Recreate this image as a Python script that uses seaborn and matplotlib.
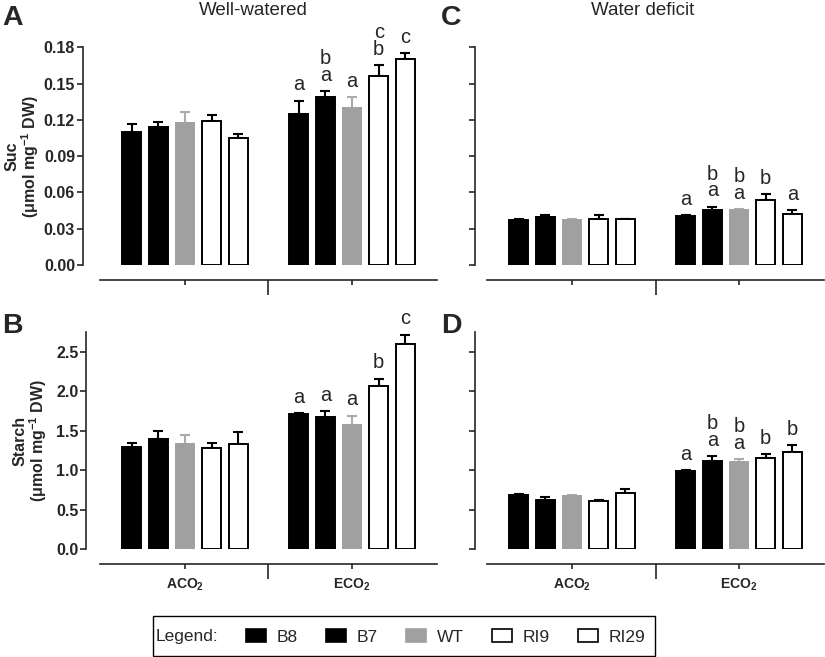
import numpy as np
import pandas as pd
import matplotlib
matplotlib.use("Agg")
import matplotlib.pyplot as plt
import seaborn as sns
from matplotlib.patches import Patch, Rectangle

# ---------------- data ----------------
genotypes = ["B8", "B7", "WT", "RI9", "RI29"]
co2_levels = ["ACO2", "ECO2"]
co2_labels = [r"$ACO_2$", r"$ECO_2$"]

# Suc, well-watered (A)
suc_ww_aco2 = [0.110, 0.114, 0.1175, 0.119, 0.105]
suc_ww_aco2_se = [0.0065, 0.004, 0.009, 0.005, 0.003]
suc_ww_eco2 = [0.125, 0.1385, 0.130, 0.156, 0.1705]
suc_ww_eco2_se = [0.011, 0.0055, 0.0085, 0.0095, 0.0045]
suc_ww_letters = ["a", "b\na", "a", "c\nb", "c"]

# Suc, water deficit (C)
suc_wd_aco2 = [0.0372, 0.0400, 0.0369, 0.0380, 0.0377]
suc_wd_aco2_se = [0.0010, 0.0015, 0.0010, 0.0030, 0.0005]
suc_wd_eco2 = [0.0405, 0.0454, 0.0454, 0.0537, 0.0424]
suc_wd_eco2_se = [0.0006, 0.0028, 0.0010, 0.0047, 0.0028]
suc_wd_letters = ["a", "b\na", "b\na", "b", "a"]

# Starch, well-watered (B)
starch_ww_aco2 = [1.29, 1.40, 1.332, 1.282, 1.328]
starch_ww_aco2_se = [0.06, 0.097, 0.114, 0.067, 0.16]
starch_ww_eco2 = [1.707, 1.678, 1.573, 2.074, 2.601]
starch_ww_eco2_se = [0.02, 0.067, 0.118, 0.089, 0.118]
starch_ww_letters = ["a", "a", "a", "b", "c"]

# Starch, water deficit (D)
starch_wd_aco2 = [0.68, 0.625, 0.675, 0.612, 0.717]
starch_wd_aco2_se = [0.017, 0.034, 0.008, 0.013, 0.046]
starch_wd_eco2 = [0.99, 1.116, 1.107, 1.153, 1.233]
starch_wd_eco2_se = [0.008, 0.067, 0.038, 0.05, 0.084]
starch_wd_letters = ["a", "b\na", "b\na", "b", "b"]

suc_ticks = [0.00, 0.03, 0.06, 0.09, 0.12, 0.15, 0.18]
starch_ticks = [0.0, 0.5, 1.0, 1.5, 2.0, 2.5]

# ---------------- style ----------------
bar_colors = ["#000000", "#000000", "#a0a0a0", "#ffffff", "#ffffff"]
edge_colors = ["#000000", "#000000", "#a0a0a0", "#000000", "#000000"]
err_colors = ["#000000", "#000000", "#ababab", "#000000", "#000000"]

sns.set_style("ticks")
plt.rcParams["font.family"] = ["Liberation Sans", "DejaVu Sans"]
plt.rcParams["mathtext.fontset"] = "custom"
plt.rcParams["mathtext.rm"] = "Liberation Sans"
plt.rcParams["mathtext.it"] = "Liberation Sans:italic"
plt.rcParams["mathtext.bf"] = "Liberation Sans:bold"
plt.rcParams["mathtext.default"] = "bf"

W, H = 825, 657
fig = plt.figure(figsize=(W / 100, H / 100), dpi=100)

PX_PER_CAT = 167.0


def rect(x_center0, xlim, y_bottom_px, y_top_px):
    left = x_center0 + xlim[0] * PX_PER_CAT
    right = x_center0 + xlim[1] * PX_PER_CAT
    return [left / W, (H - y_bottom_px) / H, (right - left) / W, (y_bottom_px - y_top_px) / H]


def panel(rect_, aco2, aco2_se, eco2, eco2_se, letters, ylim, yticks, tick_labels,
          ylabel, label_right_px, xlim, show_x):
    ax = fig.add_axes(rect_)
    df = pd.DataFrame({
        "co2": np.repeat(co2_levels, len(genotypes)),
        "genotype": genotypes * 2,
        "value": list(aco2) + list(eco2),
    })
    sns.barplot(data=df, x="co2", y="value", hue="genotype", order=co2_levels,
                hue_order=genotypes, palette=dict(zip(genotypes, bar_colors)),
                saturation=1, errorbar=None, width=0.8, gap=0.3, linewidth=1.4,
                edgecolor="black", legend=False, ax=ax)
    bar_containers = list(ax.containers)
    for hi, cont in enumerate(bar_containers):
        xs = []
        for bar in cont.patches:
            bar.set_edgecolor(edge_colors[hi])
            bar.set_zorder(2)
            xs.append(bar.get_x() + bar.get_width() / 2)
        ys = [aco2[hi], eco2[hi]]
        es = [aco2_se[hi], eco2_se[hi]]
        ax.errorbar(xs, ys, yerr=[[0, 0], es], fmt="none", ecolor=err_colors[hi],
                    elinewidth=1.5, capsize=3.5, capthick=1.5, zorder=1.5)
        ax.annotate(letters[hi], (xs[1], eco2[hi] + eco2_se[hi]), xytext=(0, 4.5),
                    textcoords="offset points", ha="center", va="bottom",
                    fontsize=14.5, linespacing=0.85, annotation_clip=False,
                    fontweight="normal")
    ax.set_xlim(*xlim)
    ax.set_ylim(*ylim)
    ax.set_yticks(yticks)
    if tick_labels:
        ax.set_yticklabels([f"{t:.2f}" if ylim[1] < 1 else f"{t:.1f}" for t in yticks],
                           fontweight="bold", fontsize=11.5)
    else:
        ax.set_yticklabels([])
    ax.set_xticks([0, 1])
    if show_x:
        ax.set_xticklabels(co2_labels, fontsize=13)
    else:
        ax.set_xticklabels([])
    ax.set_xticks([0.5], minor=True)
    ax.tick_params(axis="x", which="major", length=3.6, width=1.2, direction="out", pad=5)
    ax.tick_params(axis="x", which="minor", length=11, width=1.2, direction="out")
    ax.tick_params(axis="y", which="major", length=4.3, width=1.2, direction="out", pad=1.5)
    sns.despine(ax=ax)
    ax.spines["left"].set_linewidth(1.2)
    ax.spines["bottom"].set_linewidth(1.2)
    ax.spines["bottom"].set_position(("outward", 11))
    ax.spines["bottom"].set_bounds(-0.51, 1.51)
    ax.set_xlabel("")
    if ylabel:
        ax.set_ylabel(ylabel, fontsize=11.5, fontweight="bold", linespacing=1.0)
        left_px = rect_[0] * W
        width_px = rect_[2] * W
        ax.yaxis.set_label_coords((label_right_px - left_px) / width_px, 0.5)
    else:
        ax.set_ylabel("")
    ax.set_facecolor("none")
    return ax


suc_label = "Suc\n" + r"(μmol mg$^{-1}$ DW)"
starch_label = "Starch\n" + r"(μmol mg$^{-1}$ DW)"

panel(rect(185, (-0.61, 1.51), 265, 47.3), suc_ww_aco2, suc_ww_aco2_se, suc_ww_eco2,
      suc_ww_eco2_se, suc_ww_letters, (0, 0.18), suc_ticks, True, suc_label, 41,
      (-0.61, 1.51), False)
panel(rect(572, (-0.58, 1.51), 265, 47.3), suc_wd_aco2, suc_wd_aco2_se, suc_wd_eco2,
      suc_wd_eco2_se, suc_wd_letters, (0, 0.18), suc_ticks, False, None, None,
      (-0.58, 1.51), False)
panel(rect(185, (-0.59, 1.51), 549, 332.3), starch_ww_aco2, starch_ww_aco2_se,
      starch_ww_eco2, starch_ww_eco2_se, starch_ww_letters, (0, 2.75), starch_ticks,
      True, starch_label, 49, (-0.59, 1.51), True)
panel(rect(572, (-0.58, 1.51), 549, 332.3), starch_wd_aco2, starch_wd_aco2_se,
      starch_wd_eco2, starch_wd_eco2_se, starch_wd_letters, (0, 2.75), starch_ticks,
      False, None, None, (-0.58, 1.51), True)

# titles and panel letters
fig.text(253 / W, 1 - 15 / H, "Well-watered", ha="center", va="baseline", fontsize=13.5)
fig.text(643 / W, 1 - 15 / H, "Water deficit", ha="center", va="baseline", fontsize=13.5)
for lab, x, y in [("A", 2, 25), ("C", 441, 25), ("B", 2, 333), ("D", 441, 333)]:
    fig.text(x / W, 1 - y / H, lab, ha="left", va="baseline", fontsize=20.5,
             fontweight="bold")

# legend
fig.add_artist(Rectangle((153 / W, 1.0 / H), 502 / W, 40 / H, transform=fig.transFigure,
                         fill=False, edgecolor="black", linewidth=1.0))
fig.text(156 / W, 1 - 637 / H, "Legend:", ha="left", va="center", fontsize=12.5)
handles = [Patch(facecolor=fc, edgecolor=ec, linewidth=1.2)
           for fc, ec in zip(bar_colors, edge_colors)]
fig.legend(handles, genotypes, loc="center left", bbox_to_anchor=(246 / W, 1 - 637 / H),
           ncol=5, frameon=False, fontsize=12.5, handlelength=1.15, handleheight=0.8,
           handletextpad=0.6, columnspacing=1.65, borderaxespad=0, borderpad=0)

fig.savefig("out.png", dpi=100)
